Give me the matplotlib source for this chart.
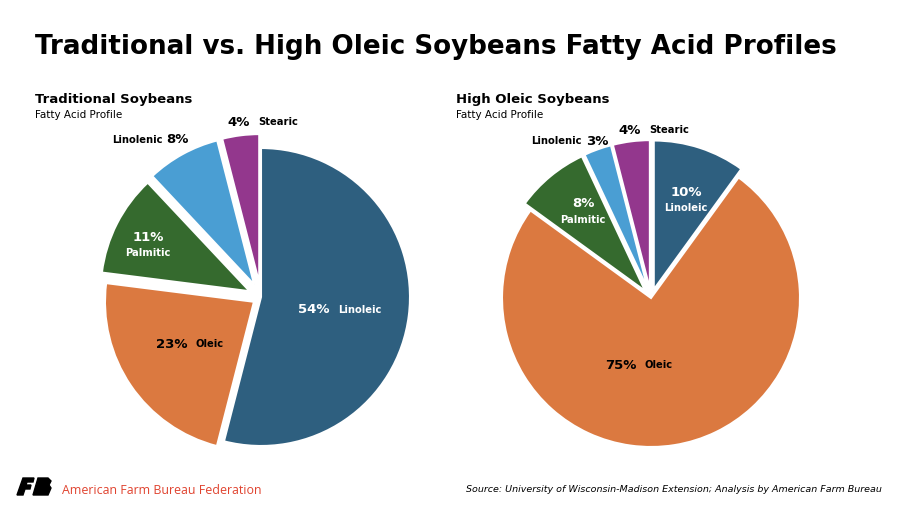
import matplotlib.pyplot as plt
from matplotlib.patches import Polygon
import numpy as np

# Data
acids_trad = ['Linoleic', 'Oleic', 'Palmitic', 'Linolenic', 'Stearic']
share_trad = [54, 23, 11, 8, 4]
acids_high = ['Linoleic', 'Oleic', 'Palmitic', 'Linolenic', 'Stearic']
share_high = [10, 75, 8, 3, 4]

colors = {'Linoleic': '#2E5F7F', 'Oleic': '#DB7940', 'Palmitic': '#356A2E',
          'Linolenic': '#4A9ED3', 'Stearic': '#93378D'}

plt.rcParams['font.family'] = ['DejaVu Sans']

fig = plt.figure(figsize=(9, 5.05), dpi=100)
W, H = 900, 505
scale = 149  # pixels per data unit
PCT_FS, NAME_FS = 9.5, 7.2


def pie_axes(cx, cy):
    half = 1.4
    side = 2 * half * scale
    ax = fig.add_axes([(cx - side / 2) / W, (H - cy - side / 2) / H, side / W, side / H])
    return ax, half


def label(ax, wedge, pct, name, r, style, dang=0, color='white', swap=False):
    ang = np.deg2rad((wedge.theta1 + wedge.theta2) / 2 + dang)
    x, y = r * np.cos(ang), r * np.sin(ang)
    kw = dict(va='center', color=color, fontweight='bold', textcoords='offset pixels')
    if style == 'stack':
        ax.annotate(f'{pct}%', (x, y), xytext=(0, 8), ha='center', fontsize=PCT_FS, **kw)
        ax.annotate(name, (x, y), xytext=(0, -8), ha='center', fontsize=NAME_FS, **kw)
    elif swap:
        ax.annotate(name, (x, y), xytext=(-3, 0), ha='right', fontsize=NAME_FS, **kw)
        ax.annotate(f'{pct}%', (x, y), xytext=(1, 0), ha='left', fontsize=PCT_FS, **kw)
    else:
        ax.annotate(f'{pct}%', (x, y), xytext=(-4, 0), ha='right', fontsize=PCT_FS, **kw)
        ax.annotate(name, (x, y), xytext=(4, 0), ha='left', fontsize=NAME_FS, **kw)


# Traditional soybeans
ax1, h = pie_axes(261, 297)
w1, _ = ax1.pie(share_trad, colors=[colors[a] for a in acids_trad], startangle=90,
                counterclock=False, explode=[0, 0.057, 0.085, 0.094, 0.094],
                wedgeprops=dict(edgecolor='white', linewidth=1.5))
ax1.set_xlim(-h, h)
ax1.set_ylim(-h, h)
ax1.axis('off')
label(ax1, w1[0], share_trad[0], acids_trad[0], 0.497, 'inline', dang=-2.9)
label(ax1, w1[1], share_trad[1], acids_trad[1], 0.566, 'inline', color='black', dang=-0.3)
label(ax1, w1[2], share_trad[2], acids_trad[2], 0.835, 'stack', dang=2.3)
label(ax1, w1[3], share_trad[3], acids_trad[3], 1.235, 'inline', color='black', dang=2.6, swap=True)
label(ax1, w1[4], share_trad[4], acids_trad[4], 1.175, 'inline', color='black', dang=-4.9)

# High oleic soybeans
ax2, h = pie_axes(651, 298)
w2, _ = ax2.pie(share_high, colors=[colors[a] for a in acids_high], startangle=90,
                counterclock=False, explode=[0.06, 0, 0.06, 0.06, 0.06],
                wedgeprops=dict(edgecolor='white', linewidth=1.5))
ax2.set_xlim(-h, h)
ax2.set_ylim(-h, h)
ax2.axis('off')
label(ax2, w2[0], share_high[0], acids_high[0], 0.698, 'stack', dang=-1.7)
label(ax2, w2[1], share_high[1], acids_high[1], 0.455, 'inline', color='black', dang=-17.5)
label(ax2, w2[2], share_high[2], acids_high[2], 0.736, 'stack', dang=-1.3)
label(ax2, w2[3], share_high[3], acids_high[3], 1.143, 'inline', color='black', dang=3, swap=True)
label(ax2, w2[4], share_high[4], acids_high[4], 1.128, 'inline', color='black', dang=-5.2)

# Titles
fig.text(35 / W, 1 - 47 / H, 'Traditional vs. High Oleic Soybeans Fatty Acid Profiles',
         fontsize=18.8, fontweight='bold', va='center', ha='left')
fig.text(35 / W, 1 - 100 / H, 'Traditional Soybeans', fontsize=9.5, fontweight='bold', va='center')
fig.text(35 / W, 1 - 115 / H, 'Fatty Acid Profile', fontsize=7.5, va='center')
fig.text(456 / W, 1 - 100 / H, 'High Oleic Soybeans', fontsize=9.5, fontweight='bold', va='center')
fig.text(456 / W, 1 - 115 / H, 'Fatty Acid Profile', fontsize=7.5, va='center')

# Footer
fig.text(882 / W, 1 - 489 / H,
         'Source: University of Wisconsin-Madison Extension; Analysis by American Farm Bureau',
         fontsize=6.8, style='italic', ha='right', va='center')
fig.text(62 / W, 1 - 491 / H, 'American Farm Bureau Federation', fontsize=8.9,
         color='#E0432F', ha='left', va='center', family='Open Sans')
logo = [[(17, 495), (23, 478), (34, 478), (33, 482), (27, 482), (26, 485), (31, 485),
         (30, 489), (25, 489), (23, 495)],
        [(33, 495), (38, 478), (48, 478), (51, 481), (49, 485), (51, 488), (48, 495)]]
for pts in logo:
    fig.patches.append(Polygon([(x / W, 1 - y / H) for x, y in pts], closed=True,
                               transform=fig.transFigure, color='black'))

fig.savefig('out.png', dpi=100)
